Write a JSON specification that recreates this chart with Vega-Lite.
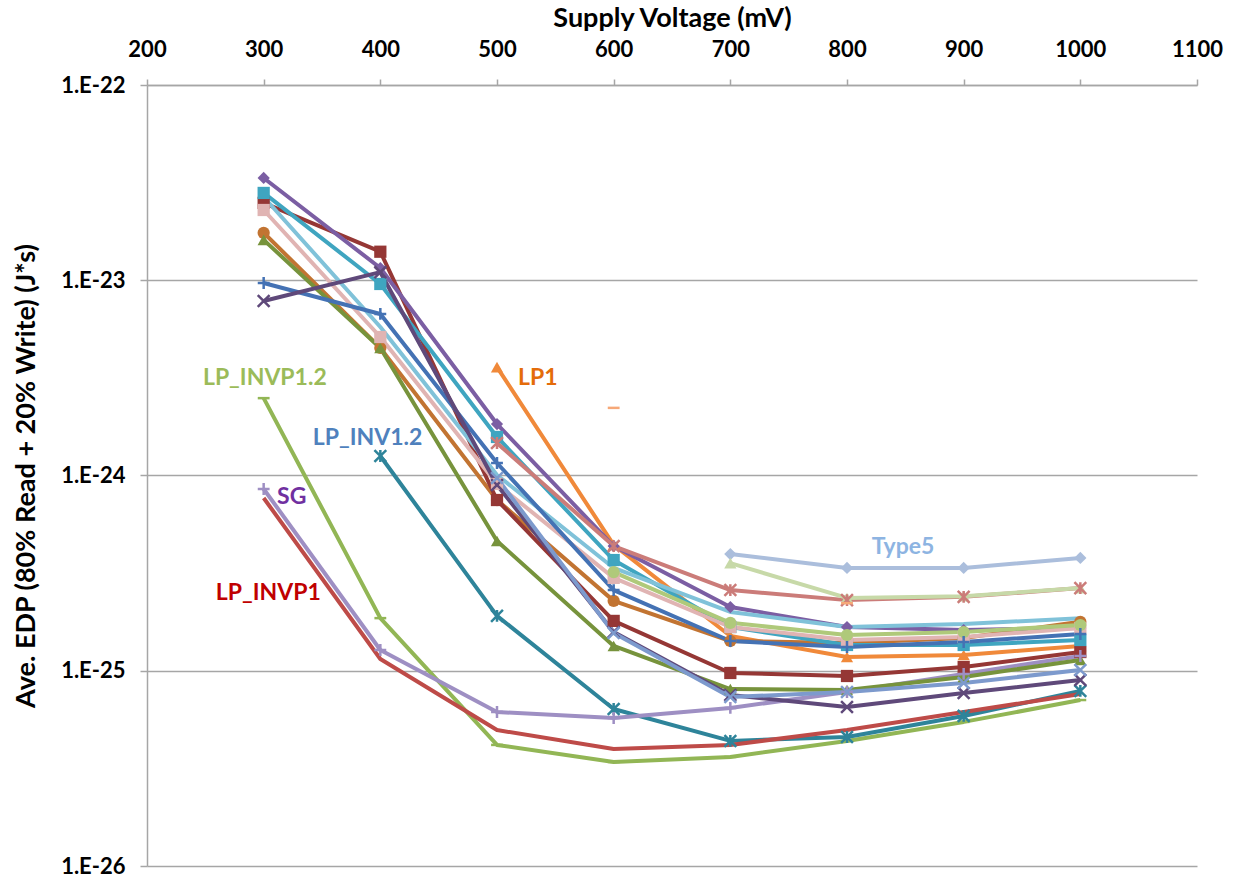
{
  "$schema": "https://vega.github.io/schema/vega-lite/v6.json",
  "width": 1050,
  "height": 781,
  "autosize": {"type": "none"},
  "padding": {"left": 147, "top": 85, "right": 41, "bottom": 15},
  "background": "white",
  "config": {"view": {"stroke": null}, "font": "Lato"},
  "datasets": {
    "edp": [
      {"series": "LP_INVP1.2", "voltage": 300, "edp": 2.49e-24},
      {"series": "LP_INVP1.2", "voltage": 400, "edp": 1.86e-25},
      {"series": "LP_INVP1.2", "voltage": 500, "edp": 4.17e-26},
      {"series": "LP_INVP1.2", "voltage": 600, "edp": 3.41e-26},
      {"series": "LP_INVP1.2", "voltage": 700, "edp": 3.62e-26},
      {"series": "LP_INVP1.2", "voltage": 800, "edp": 4.37e-26},
      {"series": "LP_INVP1.2", "voltage": 900, "edp": 5.47e-26},
      {"series": "LP_INVP1.2", "voltage": 1000, "edp": 7.08e-26},
      {"series": "LP_INV1.2", "voltage": 400, "edp": 1.259e-24},
      {"series": "LP_INV1.2", "voltage": 500, "edp": 1.91e-25},
      {"series": "LP_INV1.2", "voltage": 600, "edp": 6.37e-26},
      {"series": "LP_INV1.2", "voltage": 700, "edp": 4.37e-26},
      {"series": "LP_INV1.2", "voltage": 800, "edp": 4.58e-26},
      {"series": "LP_INV1.2", "voltage": 900, "edp": 5.87e-26},
      {"series": "LP_INV1.2", "voltage": 1000, "edp": 7.88e-26},
      {"series": "SG", "voltage": 300, "edp": 8.53e-25},
      {"series": "SG", "voltage": 400, "edp": 1.277e-25},
      {"series": "SG", "voltage": 500, "edp": 6.15e-26},
      {"series": "SG", "voltage": 600, "edp": 5.73e-26},
      {"series": "SG", "voltage": 700, "edp": 6.45e-26},
      {"series": "SG", "voltage": 800, "edp": 7.78e-26},
      {"series": "SG", "voltage": 900, "edp": 9.63e-26},
      {"series": "SG", "voltage": 1000, "edp": 1.19e-25},
      {"series": "LP_INVP1", "voltage": 300, "edp": 7.67e-25},
      {"series": "LP_INVP1", "voltage": 400, "edp": 1.149e-25},
      {"series": "LP_INVP1", "voltage": 500, "edp": 4.97e-26},
      {"series": "LP_INVP1", "voltage": 600, "edp": 3.97e-26},
      {"series": "LP_INVP1", "voltage": 700, "edp": 4.17e-26},
      {"series": "LP_INVP1", "voltage": 800, "edp": 4.97e-26},
      {"series": "LP_INVP1", "voltage": 900, "edp": 6.15e-26},
      {"series": "LP_INVP1", "voltage": 1000, "edp": 7.6e-26},
      {"series": "LP1", "voltage": 500, "edp": 3.59e-24},
      {"series": "LP1", "voltage": 600, "edp": 4.41e-25},
      {"series": "LP1", "voltage": 700, "edp": 1.507e-25},
      {"series": "LP1", "voltage": 800, "edp": 1.176e-25},
      {"series": "LP1", "voltage": 900, "edp": 1.204e-25},
      {"series": "LP1", "voltage": 1000, "edp": 1.339e-25},
      {"series": "F", "voltage": 300, "edp": 1.75e-23},
      {"series": "F", "voltage": 400, "edp": 4.5e-24},
      {"series": "F", "voltage": 500, "edp": 7.49e-25},
      {"series": "F", "voltage": 600, "edp": 2.28e-25},
      {"series": "F", "voltage": 700, "edp": 1.42e-25},
      {"series": "F", "voltage": 800, "edp": 1.387e-25},
      {"series": "F", "voltage": 900, "edp": 1.472e-25},
      {"series": "F", "voltage": 1000, "edp": 1.78e-25},
      {"series": "G", "voltage": 300, "edp": 1.61e-23},
      {"series": "G", "voltage": 400, "edp": 4.5e-24},
      {"series": "G", "voltage": 500, "edp": 4.62e-25},
      {"series": "G", "voltage": 600, "edp": 1.339e-25},
      {"series": "G", "voltage": 700, "edp": 8.06e-26},
      {"series": "G", "voltage": 800, "edp": 7.97e-26},
      {"series": "G", "voltage": 900, "edp": 9.29e-26},
      {"series": "G", "voltage": 1000, "edp": 1.135e-25},
      {"series": "H", "voltage": 300, "edp": 2.49e-23},
      {"series": "H", "voltage": 400, "edp": 1.4e-23},
      {"series": "H", "voltage": 500, "edp": 7.49e-25},
      {"series": "H", "voltage": 600, "edp": 1.8e-25},
      {"series": "H", "voltage": 700, "edp": 9.74e-26},
      {"series": "H", "voltage": 800, "edp": 9.4e-26},
      {"series": "H", "voltage": 900, "edp": 1.045e-25},
      {"series": "H", "voltage": 1000, "edp": 1.247e-25},
      {"series": "I", "voltage": 300, "edp": 2.8e-23},
      {"series": "I", "voltage": 400, "edp": 9.57e-24},
      {"series": "I", "voltage": 500, "edp": 1.575e-24},
      {"series": "I", "voltage": 600, "edp": 3.69e-25},
      {"series": "I", "voltage": 700, "edp": 1.675e-25},
      {"series": "I", "voltage": 800, "edp": 1.355e-25},
      {"series": "I", "voltage": 900, "edp": 1.355e-25},
      {"series": "I", "voltage": 1000, "edp": 1.437e-25},
      {"series": "J", "voltage": 300, "edp": 3.34e-23},
      {"series": "J", "voltage": 400, "edp": 1.155e-23},
      {"series": "J", "voltage": 500, "edp": 1.835e-24},
      {"series": "J", "voltage": 600, "edp": 4.35e-25},
      {"series": "J", "voltage": 700, "edp": 2.12e-25},
      {"series": "J", "voltage": 800, "edp": 1.675e-25},
      {"series": "J", "voltage": 900, "edp": 1.617e-25},
      {"series": "J", "voltage": 1000, "edp": 1.656e-25},
      {"series": "K", "voltage": 300, "edp": 2.29e-23},
      {"series": "K", "voltage": 400, "edp": 5.12e-24},
      {"series": "K", "voltage": 500, "edp": 9.05e-25},
      {"series": "K", "voltage": 600, "edp": 2.99e-25},
      {"series": "K", "voltage": 700, "edp": 1.675e-25},
      {"series": "K", "voltage": 800, "edp": 1.437e-25},
      {"series": "K", "voltage": 900, "edp": 1.489e-25},
      {"series": "K", "voltage": 1000, "edp": 1.656e-25},
      {"series": "L", "voltage": 300, "edp": 2.67e-23},
      {"series": "L", "voltage": 400, "edp": 5.76e-24},
      {"series": "L", "voltage": 500, "edp": 1.006e-24},
      {"series": "L", "voltage": 600, "edp": 3.36e-25},
      {"series": "L", "voltage": 700, "edp": 2.0e-25},
      {"series": "L", "voltage": 800, "edp": 1.675e-25},
      {"series": "L", "voltage": 900, "edp": 1.735e-25},
      {"series": "L", "voltage": 1000, "edp": 1.86e-25},
      {"series": "M", "voltage": 300, "edp": 9.68e-24},
      {"series": "M", "voltage": 400, "edp": 6.72e-24},
      {"series": "M", "voltage": 500, "edp": 1.159e-24},
      {"series": "M", "voltage": 600, "edp": 2.59e-25},
      {"series": "M", "voltage": 700, "edp": 1.42e-25},
      {"series": "M", "voltage": 800, "edp": 1.323e-25},
      {"series": "M", "voltage": 900, "edp": 1.404e-25},
      {"series": "M", "voltage": 1000, "edp": 1.542e-25},
      {"series": "N", "voltage": 300, "edp": 7.83e-24},
      {"series": "N", "voltage": 400, "edp": 1.1e-23},
      {"series": "N", "voltage": 500, "edp": 8.94e-25},
      {"series": "N", "voltage": 600, "edp": 1.579e-25},
      {"series": "N", "voltage": 700, "edp": 7.51e-26},
      {"series": "N", "voltage": 800, "edp": 6.52e-26},
      {"series": "N", "voltage": 900, "edp": 7.69e-26},
      {"series": "N", "voltage": 1000, "edp": 8.97e-26},
      {"series": "O", "voltage": 500, "edp": 1.467e-24},
      {"series": "O", "voltage": 600, "edp": 4.35e-25},
      {"series": "O", "voltage": 700, "edp": 2.59e-25},
      {"series": "O", "voltage": 800, "edp": 2.3e-25},
      {"series": "O", "voltage": 900, "edp": 2.39e-25},
      {"series": "O", "voltage": 1000, "edp": 2.65e-25},
      {"series": "Type5", "voltage": 700, "edp": 3.96e-25},
      {"series": "Type5", "voltage": 800, "edp": 3.36e-25},
      {"series": "Type5", "voltage": 900, "edp": 3.36e-25},
      {"series": "Type5", "voltage": 1000, "edp": 3.78e-25},
      {"series": "Q", "voltage": 700, "edp": 3.56e-25},
      {"series": "Q", "voltage": 800, "edp": 2.36e-25},
      {"series": "Q", "voltage": 900, "edp": 2.41e-25},
      {"series": "Q", "voltage": 1000, "edp": 2.65e-25},
      {"series": "R", "voltage": 600, "edp": 2.22e-24},
      {"series": "R", "voltage": 800, "edp": 2.22e-25},
      {"series": "S", "voltage": 600, "edp": 3.2e-25},
      {"series": "S", "voltage": 700, "edp": 1.76e-25},
      {"series": "S", "voltage": 800, "edp": 1.524e-25},
      {"series": "S", "voltage": 900, "edp": 1.579e-25},
      {"series": "S", "voltage": 1000, "edp": 1.715e-25},
      {"series": "T", "voltage": 500, "edp": 9.71e-25},
      {"series": "T", "voltage": 600, "edp": 1.56e-25},
      {"series": "T", "voltage": 700, "edp": 7.34e-26},
      {"series": "T", "voltage": 800, "edp": 7.78e-26},
      {"series": "T", "voltage": 900, "edp": 8.66e-26},
      {"series": "T", "voltage": 1000, "edp": 1.009e-25}
    ],
    "labels": [
      {"label": "LP_INVP1.2", "voltage": 301, "edp": 3.16e-24},
      {"label": "LP_INV1.2", "voltage": 389, "edp": 1.56e-24},
      {"label": "SG", "voltage": 324, "edp": 7.8e-25},
      {"label": "LP_INVP1", "voltage": 304, "edp": 2.5e-25},
      {"label": "LP1", "voltage": 535, "edp": 3.14e-24},
      {"label": "Type5", "voltage": 848, "edp": 4.3e-25}
    ]
  },
  "encoding": {
    "x": {
      "field": "voltage", "type": "quantitative",
      "scale": {"domain": [200, 1100], "nice": false, "zero": false},
      "axis": {
        "orient": "top", "values": [200, 300, 400, 500, 600, 700, 800, 900, 1000, 1100], "format": "d", "labelFlush": false,
        "title": "Supply Voltage (mV)", "grid": false,
        "domainColor": "#a6a6a6", "domainWidth": 1.5, "tickColor": "#a6a6a6", "tickSize": 6, "tickWidth": 1.5,
        "labelFont": "Lato", "labelFontWeight": "bold", "labelFontSize": 22, "labelColor": "black", "labelPadding": 18,
        "titleFont": "Lato", "titleFontSize": 27, "titleFontWeight": "bold", "titleColor": "black", "titlePadding": 6
      }
    },
    "y": {
      "field": "edp", "type": "quantitative",
      "scale": {"type": "log", "domain": [1e-26, 1e-22], "nice": false},
      "axis": {
        "values": [1e-26, 1e-25, 1e-24, 1e-23, 1e-22],
        "labelExpr": "'1.E-' + round(-log(datum.value)/LN10)",
        "title": "Ave. EDP (80% Read + 20% Write) (J*s)",
        "grid": true, "gridColor": "#a6a6a6", "gridWidth": 1.5,
        "domainColor": "#a6a6a6", "domainWidth": 1.5, "tickColor": "#a6a6a6", "tickSize": 7, "tickWidth": 1.5,
        "labelFont": "Lato", "labelFontWeight": "bold", "labelFontSize": 22, "labelColor": "black", "labelPadding": 15,
        "titleFont": "Lato", "titleFontSize": 27, "titleFontWeight": "bold", "titleColor": "black", "titlePadding": 20
      }
    }
  },
  "layer": [
    {
      "data": {"name": "edp"},
      "transform": [{"filter": {"not": {"field": "series", "equal": "R"}}}],
      "mark": {"type": "line", "strokeWidth": 4, "strokeJoin": "round"},
      "encoding": {
        "color": {
          "field": "series", "type": "nominal", "legend": null,
          "scale": {
            "domain": ["LP_INVP1.2", "LP_INV1.2", "SG", "LP_INVP1", "LP1", "F", "G", "H", "I", "J", "K", "L", "M", "N", "O", "Type5", "Q", "R", "S", "T"],
            "range": ["#92B655", "#2E849A", "#9E8FC3", "#BE4B48", "#F0893A", "#C27432", "#77933C", "#953735", "#3FA5C0", "#7B5EA3", "#E0B4B3", "#80C2D9", "#4472B4", "#5F497A", "#CB7C79", "#ABBEDC", "#C7D9A8", "#F6A878", "#AFC97A", "#7D9ACD"]
          }
        }
      }
    },
    {
      "data": {"name": "edp"},
      "transform": [{"filter": {"field": "series", "oneOf": ["LP1", "F", "G", "H", "I", "J", "K", "Type5", "Q", "S"]}}],
      "mark": {"type": "point", "filled": true, "opacity": 1, "size": 150},
      "encoding": {
        "color": {
          "field": "series", "type": "nominal", "legend": null,
          "scale": {
            "domain": ["LP_INVP1.2", "LP_INV1.2", "SG", "LP_INVP1", "LP1", "F", "G", "H", "I", "J", "K", "L", "M", "N", "O", "Type5", "Q", "R", "S", "T"],
            "range": ["#92B655", "#2E849A", "#9E8FC3", "#BE4B48", "#F0893A", "#C27432", "#77933C", "#953735", "#3FA5C0", "#7B5EA3", "#E0B4B3", "#80C2D9", "#4472B4", "#5F497A", "#CB7C79", "#ABBEDC", "#C7D9A8", "#F6A878", "#AFC97A", "#7D9ACD"]
          }
        },
        "shape": {
          "field": "series", "type": "nominal", "legend": null,
          "scale": {
            "domain": ["LP1", "F", "G", "H", "I", "J", "K", "Type5", "Q", "S"],
            "range": ["triangle-up", "circle", "triangle-up", "square", "square", "diamond", "square", "diamond", "triangle-up", "circle"]
          }
        }
      }
    },
    {
      "data": {"name": "edp"},
      "transform": [{"filter": {"field": "series", "oneOf": ["LP_INVP1.2", "LP_INV1.2", "SG", "M", "N", "O", "R", "T"]}}],
      "mark": {"type": "point", "filled": false, "opacity": 1, "size": 140, "strokeWidth": 2.5},
      "encoding": {
        "color": {
          "field": "series", "type": "nominal", "legend": null,
          "scale": {
            "domain": ["LP_INVP1.2", "LP_INV1.2", "SG", "LP_INVP1", "LP1", "F", "G", "H", "I", "J", "K", "L", "M", "N", "O", "Type5", "Q", "R", "S", "T"],
            "range": ["#92B655", "#2E849A", "#9E8FC3", "#BE4B48", "#F0893A", "#C27432", "#77933C", "#953735", "#3FA5C0", "#7B5EA3", "#E0B4B3", "#80C2D9", "#4472B4", "#5F497A", "#CB7C79", "#ABBEDC", "#C7D9A8", "#F6A878", "#AFC97A", "#7D9ACD"]
          }
        },
        "shape": {
          "field": "series", "type": "nominal", "legend": null,
          "scale": {
            "domain": ["LP_INVP1.2", "LP_INV1.2", "SG", "M", "N", "O", "R", "T"],
            "range": ["M-1,0L1,0", "M-1,-1L1,1M-1,1L1,-1M0,-1L0,1", "M-1,0L1,0M0,-1L0,1", "M-1,0L1,0M0,-1L0,1", "M-1,-1L1,1M-1,1L1,-1", "M-1,-1L1,1M-1,1L1,-1M0,-1L0,1", "M-1,0L1,0", "M-1,-1L1,1M-1,1L1,-1"]
          }
        }
      }
    },
    {
      "data": {"name": "labels"},
      "mark": {"type": "text", "font": "Lato", "fontWeight": "bold", "fontSize": 23, "align": "center", "baseline": "middle"},
      "encoding": {
        "text": {"field": "label"},
        "color": {
          "field": "label", "type": "nominal", "legend": null,
          "scale": {
            "domain": ["LP_INVP1.2", "LP_INV1.2", "SG", "LP_INVP1", "LP1", "Type5"],
            "range": ["#9BBB59", "#4F81BD", "#7030A0", "#C00000", "#E46C0A", "#8DB4E2"]
          }
        }
      }
    }
  ],
  "resolve": {"scale": {"color": "independent", "shape": "independent"}}
}
